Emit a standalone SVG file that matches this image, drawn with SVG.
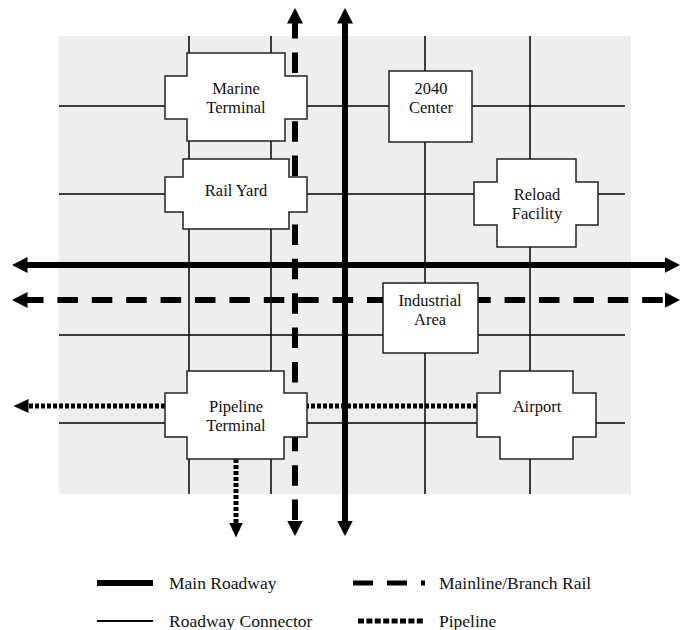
<svg xmlns="http://www.w3.org/2000/svg" width="682" height="630" viewBox="0 0 682 630">
<style>
.grid{stroke:#000;stroke-width:1.5;fill:none}
.road{stroke:#000;stroke-width:6;fill:none}
.rail{stroke:#000;stroke-width:6;fill:none;stroke-dasharray:20.5 13.9}
.pipe{stroke:#000;stroke-width:5;fill:none;stroke-dasharray:4 2}
.node{fill:#fff;stroke:#222;stroke-width:1.5}
.lbl{font-size:16.5px;fill:#111;text-anchor:middle}
.leg{font-size:17.5px;fill:#111}
</style>
<defs>
<marker id="ah" markerUnits="userSpaceOnUse" markerWidth="16" markerHeight="18" viewBox="0 -9 16 18" refX="0.5" refY="0" orient="auto-start-reverse">
<path d="M0,-8 L15.5,0 L0,8 Z" fill="#000"/>
</marker>
<marker id="ahp" markerUnits="userSpaceOnUse" markerWidth="16" markerHeight="16" viewBox="0 -8 16 16" refX="0.5" refY="0" orient="auto-start-reverse">
<path d="M0,-7 L15,0 L0,7 Z" fill="#000"/>
</marker>
</defs>
<rect x="59" y="36" width="572" height="458" fill="#eeeeee"/>
<g id="connectors">
<g id="roadway-connectors">
<line class="grid" x1="59" y1="106" x2="625" y2="106"/>
<line class="grid" x1="59" y1="194" x2="625" y2="194"/>
<line class="grid" x1="59" y1="335" x2="625" y2="335"/>
<line class="grid" x1="59" y1="423" x2="625" y2="423"/>
<line class="grid" x1="189" y1="36" x2="189" y2="494"/>
<line class="grid" x1="271" y1="36" x2="271" y2="494"/>
<line class="grid" x1="425" y1="36" x2="425" y2="494"/>
<line class="grid" x1="530" y1="36" x2="530" y2="494"/>
</g>
<g id="main-roadway">
<line class="road" x1="345" y1="23" x2="345" y2="521" marker-start="url(#ah)" marker-end="url(#ah)"/>
<line class="road" x1="27" y1="265" x2="665" y2="265" marker-start="url(#ah)" marker-end="url(#ah)"/>
</g>
<g id="rail">
<line class="rail" x1="295" y1="23" x2="295" y2="521" stroke-dashoffset="5" marker-start="url(#ah)" marker-end="url(#ah)"/>
<line class="rail" x1="27" y1="300" x2="665" y2="300" stroke-dashoffset="4" marker-start="url(#ah)" marker-end="url(#ah)"/>
</g>
<g id="pipeline">
<line class="pipe" x1="477" y1="406" x2="28" y2="406" marker-end="url(#ahp)"/>
<line class="pipe" x1="236" y1="459" x2="236" y2="523" marker-end="url(#ahp)"/>
</g>
</g>
<g font-family="'Liberation Serif', 'DejaVu Serif', serif">
<g id="marine-terminal">
<path class="node" d="M187,53 H285 V76 H307 V119 H285 V141 H187 V119 H165 V76 H187 Z"/>
<text class="lbl" x="236" y="94">Marine</text>
<text class="lbl" x="236" y="113">Terminal</text>
</g>
<g id="rail-yard">
<path class="node" d="M183,159 H289 V177 H307 V212 H289 V229 H183 V212 H165 V177 H183 Z"/>
<text class="lbl" x="236" y="196">Rail Yard</text>
</g>
<g id="center-2040">
<rect class="node" x="389" y="71" width="83" height="71"/>
<text class="lbl" x="431" y="94">2040</text>
<text class="lbl" x="431" y="113">Center</text>
</g>
<g id="reload-facility">
<path class="node" d="M497,159 H576 V182 H598 V225 H576 V247 H497 V225 H474 V182 H497 Z"/>
<text class="lbl" x="537" y="200">Reload</text>
<text class="lbl" x="537" y="219">Facility</text>
</g>
<g id="industrial-area">
<rect class="node" x="383" y="283" width="95" height="70"/>
<text class="lbl" x="430" y="306">Industrial</text>
<text class="lbl" x="430" y="325">Area</text>
</g>
<g id="pipeline-terminal">
<path class="node" d="M187,371 H284 V393 H307 V437 H284 V459 H187 V437 H165 V393 H187 Z"/>
<text class="lbl" x="236" y="412">Pipeline</text>
<text class="lbl" x="236" y="431">Terminal</text>
</g>
<g id="airport">
<path class="node" d="M500,371 H573 V393 H596 V437 H573 V459 H500 V437 H477 V393 H500 Z"/>
<text class="lbl" x="537" y="412">Airport</text>
</g>
<g id="legend">
<line x1="97" y1="583" x2="153" y2="583" stroke="#000" stroke-width="6"/>
<text class="leg" x="169" y="589">Main Roadway</text>
<line x1="97" y1="621" x2="153" y2="621" stroke="#000" stroke-width="2"/>
<text class="leg" x="169" y="627">Roadway Connector</text>
<line x1="353" y1="583" x2="425" y2="583" stroke="#000" stroke-width="5" stroke-dasharray="20 14"/>
<text class="leg" x="439" y="589">Mainline/Branch Rail</text>
<line x1="358" y1="621" x2="425" y2="621" stroke="#000" stroke-width="5" stroke-dasharray="6 2.4"/>
<text class="leg" x="439" y="627">Pipeline</text>
</g>
</g>
</svg>
